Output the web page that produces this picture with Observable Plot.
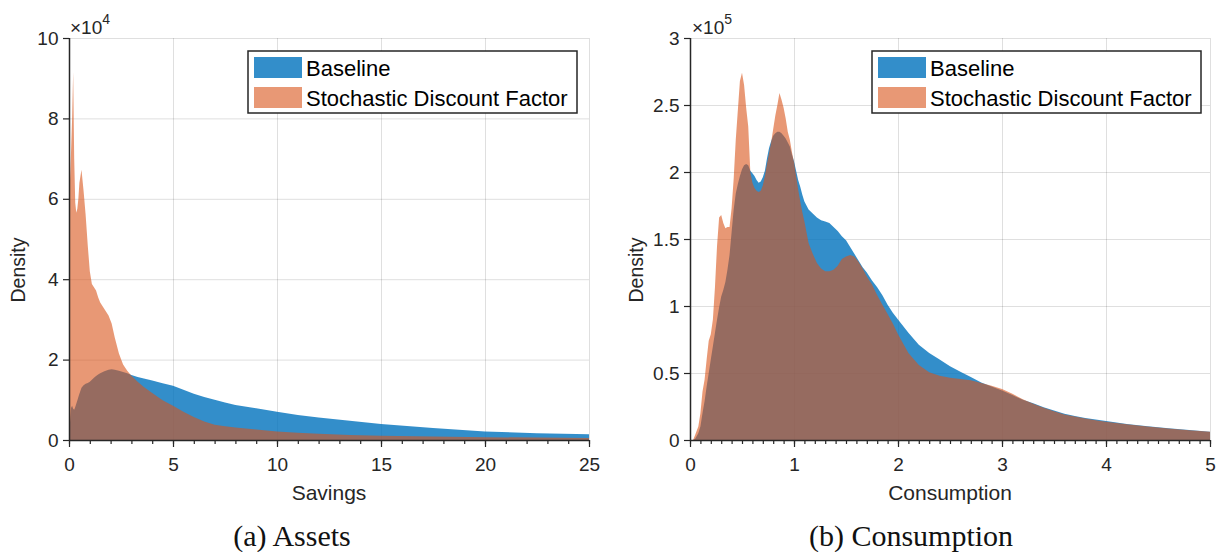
<!DOCTYPE html>
<html><head><meta charset="utf-8">
<script src="https://cdn.jsdelivr.net/npm/d3@7"></script>
<script src="https://cdn.jsdelivr.net/npm/@observablehq/plot@0.6"></script>
<style>
html,body{margin:0;padding:0;background:#fff;}
#root{position:relative;width:1217px;height:552px;overflow:hidden;}
.panel{position:absolute;top:0;}
#overlay{position:absolute;left:0;top:0;pointer-events:none;}
</style>
</head><body><div id="root"></div>
<script>
// ---------- data (density in units of the axis multiplier) ----------
const savings = [0,0.05,0.1,0.15,0.2,0.25,0.3,0.35,0.4,0.45,0.5,
  0.6,0.7,0.8,0.9,1.0,1.1,1.2,1.3,1.4,1.5,
  1.7,1.9,2.05,2.2,2.4,2.6,2.8,3.0,
  3.3,3.6,4.0,4.5,
  5,5.5,6,6.5,7,7.5,8,
  9,10,11,12,13.5,15,17.5,20,22.5,25];
const assetsBaseline = [0.1,0.45,0.8,0.85,0.78,0.75,0.82,0.9,0.98,1.07,1.15,
  1.3,1.36,1.4,1.42,1.45,1.5,1.55,1.59,1.63,1.66,
  1.71,1.75,1.76,1.75,1.72,1.69,1.66,1.62,
  1.57,1.53,1.48,1.41,
  1.35,1.25,1.15,1.07,1.0,0.93,0.87,
  0.79,0.7,0.62,0.56,0.48,0.4,0.3,0.21,0.17,0.14];
const assetsSDF = [5.5,6.5,7.2,8.0,9.15,7.0,5.9,5.65,5.75,6.0,6.4,
  6.72,6.2,5.6,4.85,4.2,3.88,3.8,3.72,3.55,3.42,
  3.26,3.1,2.9,2.55,2.15,1.88,1.72,1.6,
  1.45,1.32,1.17,0.99,
  0.85,0.7,0.57,0.46,0.38,0.34,0.31,
  0.26,0.21,0.18,0.155,0.125,0.105,0.085,0.07,0.06,0.05];

const consumption = [0,0.03,0.05,0.08,
  0.1,0.12,0.14,0.16,0.18,0.2,0.22,0.24,0.26,0.28,0.3,0.32,0.34,0.36,0.38,0.4,0.42,0.44,0.46,0.48,0.5,
  0.52,0.54,0.56,0.58,0.6,0.62,0.64,0.66,0.68,0.7,
  0.72,0.74,0.76,0.78,0.8,0.82,0.84,0.86,0.88,0.9,
  0.92,0.94,0.96,0.98,1.0,1.02,1.04,1.06,1.08,1.1,
  1.14,1.18,1.22,1.26,1.3,1.34,1.38,1.42,1.46,1.5,1.54,1.58,1.62,1.66,
  1.7,1.75,1.8,1.85,1.9,1.95,2.0,
  2.1,2.2,2.3,2.4,2.5,2.6,2.7,2.8,2.9,3.0,3.1,3.2,3.3,3.4,3.5,3.6,3.7,3.8,3.9,
  4.0,4.2,4.4,4.6,4.8,5.0];
const consBaseline = [0,0,0.01,0.05,
  0.1,0.2,0.29,0.4,0.5,0.6,0.7,0.8,0.9,0.99,1.07,1.12,1.18,1.27,1.38,1.55,1.72,1.84,1.91,1.97,2.02,
  2.05,2.06,2.05,2.01,1.99,1.97,1.94,1.92,1.93,1.96,
  2.01,2.1,2.18,2.23,2.27,2.29,2.3,2.3,2.29,2.27,
  2.25,2.22,2.19,2.13,2.08,2.01,1.94,1.89,1.83,1.78,
  1.72,1.69,1.66,1.64,1.63,1.62,1.59,1.56,1.52,1.49,1.44,1.39,1.34,1.29,
  1.25,1.19,1.14,1.08,1.01,0.95,0.9,
  0.8,0.71,0.65,0.6,0.55,0.51,0.47,0.43,0.4,0.37,0.335,0.3,0.275,0.245,0.22,0.195,0.18,0.165,0.153,
  0.142,0.12,0.103,0.087,0.074,0.062];
const consSDF = [0,0,0.04,0.10,
  0.2,0.36,0.45,0.6,0.74,0.79,0.9,1.14,1.45,1.66,1.68,1.62,1.58,1.59,1.59,1.73,1.95,2.24,2.46,2.68,2.74,
  2.65,2.48,2.34,2.0,1.92,1.88,1.86,1.85,1.86,1.9,
  1.97,2.06,2.14,2.22,2.32,2.42,2.5,2.59,2.54,2.48,
  2.4,2.3,2.24,2.15,2.07,1.97,1.87,1.78,1.7,1.63,
  1.47,1.39,1.32,1.28,1.26,1.26,1.27,1.3,1.35,1.37,1.38,1.37,1.33,1.28,
  1.22,1.16,1.08,1.01,0.94,0.87,0.79,
  0.65,0.56,0.505,0.48,0.465,0.455,0.445,0.425,0.405,0.38,0.345,0.305,0.27,0.24,0.215,0.19,0.175,0.16,0.148,
  0.137,0.117,0.1,0.085,0.073,0.062];

// ---------- ticks / labels ----------
const savingsTicks = [0,5,10,15,20,25];
const assetsDensityTicks = [0,2,4,6,8,10];
const consumptionTicks = [0,1,2,3,4,5];
const consDensityTicks = [0,0.5,1,1.5,2,2.5,3];
const seriesNames = ["Baseline","Stochastic Discount Factor"];
const seriesColors = ["#0072BD","#D95319"];
const seriesOpacity = [0.8,0.6];
const swatchColors = ["#338eca","#e89875"];
const panelTitles = ["(a) Assets","(b) Consumption"];
const xLabels = ["Savings","Consumption"];
const exponents = ["4","5"];

const ink = "#262626";
const font = "'Liberation Sans', Arial, Helvetica, sans-serif";

function panel({xs, base, sdf, xTicks, yTicks, minor, xDomain, yDomain, width, marginLeft, marginRight}) {
  const rows = xs.map((x,i)=>({x, base: base[i], sdf: sdf[i]}));
  return Plot.plot({
    width, height: 480, marginTop: 38, marginBottom: 40, marginLeft, marginRight,
    x: {domain: xDomain},
    y: {domain: yDomain},
    style: {fontFamily: font, fontSize: "19px", color: ink, background: "transparent", overflow: "visible"},
    marks: [
      Plot.gridX(xTicks, {stroke: ink, strokeOpacity: 0.15, strokeWidth: 1}),
      Plot.gridY(yTicks, {stroke: ink, strokeOpacity: 0.15, strokeWidth: 1}),
      Plot.areaY(rows, {x: "x", y: "base", fill: seriesColors[0], fillOpacity: seriesOpacity[0]}),
      Plot.areaY(rows, {x: "x", y: "sdf", fill: seriesColors[1], fillOpacity: seriesOpacity[1]}),
      Plot.axisX(minor, {tickSize: 4, tickFormat: () => "", label: null, strokeWidth: 1.2}),
      Plot.axisX(xTicks, {tickSize: 7, tickPadding: 10, tickFormat: d => String(d), label: null, strokeWidth: 1.2}),
      Plot.axisY(yTicks, {tickSize: 6, tickPadding: 5, tickFormat: d => String(d), label: null, strokeWidth: 1.2}),
      Plot.ruleY([yDomain[0]], {stroke: ink, strokeWidth: 1.5}),
      Plot.ruleX([xDomain[0]], {stroke: ink, strokeWidth: 1.5})
    ]
  });
}

const root = document.getElementById("root");

const left = panel({xs: savings, base: assetsBaseline, sdf: assetsSDF,
  xTicks: savingsTicks, yTicks: assetsDensityTicks, minor: d3.range(0, 26, 1),
  xDomain: [0,25], yDomain: [0,10], width: 608, marginLeft: 69, marginRight: 19});
left.classList.add("panel"); left.style.left = "0px";
root.appendChild(left);

const right = panel({xs: consumption, base: consBaseline, sdf: consSDF,
  xTicks: consumptionTicks, yTicks: consDensityTicks, minor: d3.range(0, 51, 1).map(i => i / 10),
  xDomain: [0,5], yDomain: [0,3], width: 609, marginLeft: 82, marginRight: 7});
right.classList.add("panel"); right.style.left = "608px";
root.appendChild(right);

// ---------- overlay: labels, multipliers, legends, captions ----------
const ov = d3.create("svg").attr("id","overlay").attr("width",1217).attr("height",552)
  .attr("font-family", font).attr("fill", ink);

const panels = [
  {plotX0: 69, plotX1: 589, densX: 25, expX: 70, legX: 248, capX: 292},
  {plotX0: 690, plotX1: 1210, densX: 643, expX: 692, legX: 872, capX: 911}
];
panels.forEach((p, k) => {
  // exponent
  const e = ov.append("text").attr("x", p.expX).attr("y", 34).style("font-size", "19px");
  e.append("tspan").text("×10");
  e.append("tspan").attr("dy", -10).style("font-size", "14px").text(exponents[k]);
  // y label
  ov.append("text").attr("transform", `translate(${p.densX},270) rotate(-90)`)
    .attr("text-anchor","middle").style("font-size", "19.5px").text("Density");
  // x label
  ov.append("text").attr("x", (p.plotX0 + p.plotX1) / 2).attr("y", 500)
    .attr("text-anchor","middle").style("font-size", "21px").text(xLabels[k]);
  // caption
  ov.append("text").attr("x", p.capX).attr("y", 546).attr("text-anchor","middle")
    .attr("font-family", "'Liberation Serif', 'Times New Roman', serif").style("font-size", "30px")
    .attr("fill", "#111").text(panelTitles[k]);
  // legend
  const g = ov.append("g").attr("transform", `translate(${p.legX},51)`);
  g.append("rect").attr("width", 329).attr("height", 62).attr("fill", "#fff")
    .attr("stroke", ink).attr("stroke-width", 1.5);
  seriesNames.forEach((name, i) => {
    g.append("rect").attr("x", 6).attr("y", 6 + i * 30).attr("width", 48).attr("height", 21)
      .attr("fill", swatchColors[i]);
    g.append("text").attr("x", 58).attr("y", 25 + i * 29.5).style("font-size", "22px")
      .attr("fill", "#000").text(name);
  });
});
root.appendChild(ov.node());
</script>
</body></html>
